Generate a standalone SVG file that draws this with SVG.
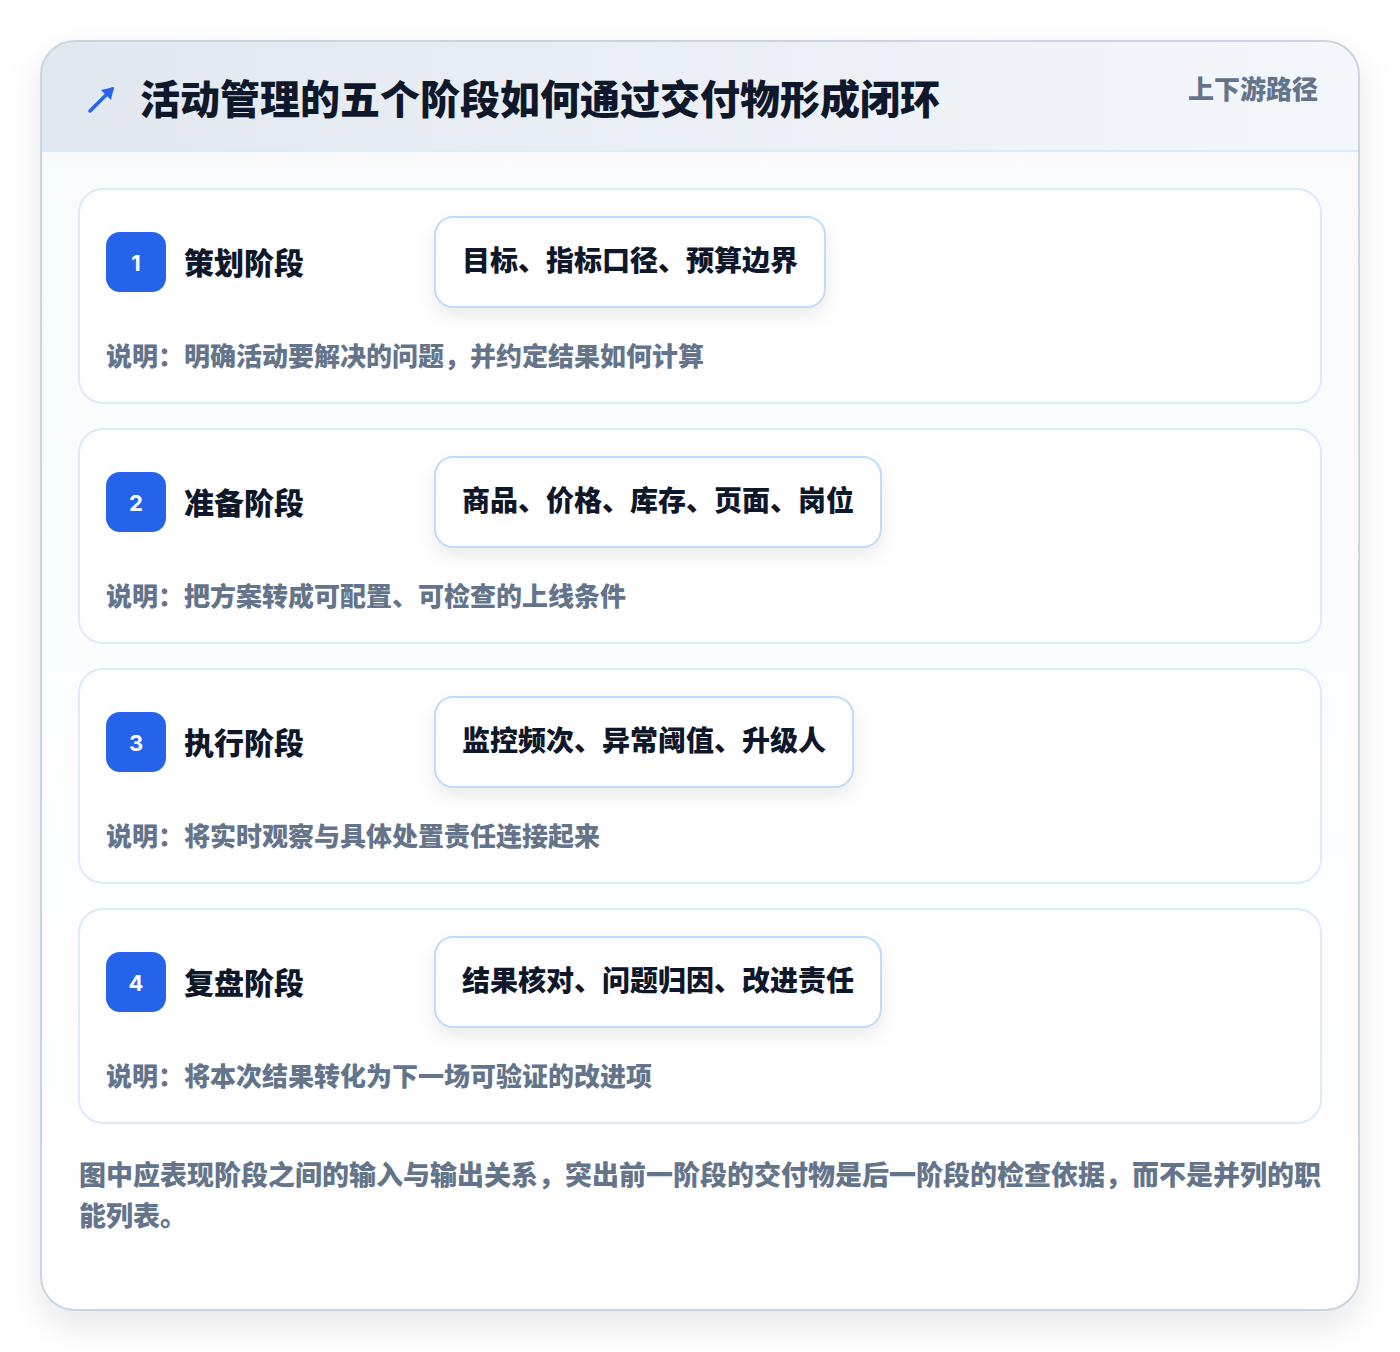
<svg xmlns="http://www.w3.org/2000/svg" width="1400" height="1352" viewBox="0 0 1400 1352">
<defs>
  <linearGradient id="hdr" x1="0" y1="0" x2="1" y2="0">
    <stop offset="0" stop-color="#e2e8f0"/>
    <stop offset="1" stop-color="#f4f7fb"/>
  </linearGradient>
  <linearGradient id="body" x1="0" y1="0" x2="0" y2="1">
    <stop offset="0" stop-color="#f8fafc"/>
    <stop offset="1" stop-color="#ffffff"/>
  </linearGradient>
  <filter id="outerShadow" x="-10%" y="-10%" width="120%" height="125%">
    <feDropShadow dx="0" dy="14" stdDeviation="18" flood-color="#0f172a" flood-opacity="0.10"/>
  </filter>
  <filter id="boxShadow" x="-20%" y="-40%" width="140%" height="200%">
    <feDropShadow dx="0" dy="8" stdDeviation="9" flood-color="#0f172a" flood-opacity="0.08"/>
  </filter>
  <clipPath id="outerClip">
    <rect x="41" y="41" width="1318" height="1269" rx="34"/>
  </clipPath>
  <style>
    text { font-family: "Noto Sans CJK SC", "Noto Sans", sans-serif; font-weight: 900; }
    .title { font-size: 40px; fill: #0f172a; }
    .tag { font-size: 26px; fill: #64748b; }
    .card { fill: #ffffff; stroke: #dbeafe; stroke-width: 2; }
    .badge { fill: #2563eb; }
    .num { font-family: "Inter", "Liberation Sans", sans-serif; font-weight: 700; font-size: 22px; fill: #ffffff; }
    .stage { font-size: 30px; fill: #0f172a; }
    .box { fill: #ffffff; stroke: #bfdbfe; stroke-width: 2; }
    .deliv { font-size: 28px; fill: #0f172a; }
    .desc { font-size: 26px; fill: #64748b; }
    .foot { font-size: 27px; fill: #64748b; }
  </style>
</defs>
<rect width="1400" height="1352" fill="#ffffff"/>
<g id="frame">
  <rect x="41" y="41" width="1318" height="1269" rx="34" fill="url(#body)" filter="url(#outerShadow)"/>
  <g clip-path="url(#outerClip)">
    <rect x="41" y="41" width="1318" height="110" fill="url(#hdr)"/>
    <line x1="41" y1="151" x2="1359" y2="151" stroke="#dbeafe" stroke-width="2"/>
  </g>
  <rect x="41" y="41" width="1318" height="1269" rx="34" fill="none" stroke="#cbd5e1" stroke-width="2"/>
</g>
<g id="header">
  <path d="M90 111 L112 89" stroke="#2563eb" stroke-width="3.5" stroke-linecap="round" fill="none"/>
  <path d="M114 87 L101 90 L111 100 Z" fill="#2563eb"/>
  <text class="title" x="140" y="114">活动管理的五个阶段如何通过交付物形成闭环</text>
  <text class="tag" x="1318" y="99" text-anchor="end">上下游路径</text>
</g>
<g id="stage1">
  <rect class="card" x="79" y="189" width="1242" height="214" rx="24"/>
  <rect class="badge" x="106" y="232" width="60" height="60" rx="14"/>
  <text class="num" x="136" y="271" text-anchor="middle">1</text>
  <text class="stage" x="184" y="274">策划阶段</text>
  <rect class="box" x="435" y="217" width="390" height="90" rx="18" filter="url(#boxShadow)"/>
  <text class="deliv" x="462" y="271">目标、指标口径、预算边界</text>
  <text class="desc" x="106" y="366">说明：明确活动要解决的问题，并约定结果如何计算</text>
</g>
<g id="stage2">
  <rect class="card" x="79" y="429" width="1242" height="214" rx="24"/>
  <rect class="badge" x="106" y="472" width="60" height="60" rx="14"/>
  <text class="num" x="136" y="511" text-anchor="middle">2</text>
  <text class="stage" x="184" y="514">准备阶段</text>
  <rect class="box" x="435" y="457" width="446" height="90" rx="18" filter="url(#boxShadow)"/>
  <text class="deliv" x="462" y="511">商品、价格、库存、页面、岗位</text>
  <text class="desc" x="106" y="606">说明：把方案转成可配置、可检查的上线条件</text>
</g>
<g id="stage3">
  <rect class="card" x="79" y="669" width="1242" height="214" rx="24"/>
  <rect class="badge" x="106" y="712" width="60" height="60" rx="14"/>
  <text class="num" x="136" y="751" text-anchor="middle">3</text>
  <text class="stage" x="184" y="754">执行阶段</text>
  <rect class="box" x="435" y="697" width="418" height="90" rx="18" filter="url(#boxShadow)"/>
  <text class="deliv" x="462" y="751">监控频次、异常阈值、升级人</text>
  <text class="desc" x="106" y="846">说明：将实时观察与具体处置责任连接起来</text>
</g>
<g id="stage4">
  <rect class="card" x="79" y="909" width="1242" height="214" rx="24"/>
  <rect class="badge" x="106" y="952" width="60" height="60" rx="14"/>
  <text class="num" x="136" y="991" text-anchor="middle">4</text>
  <text class="stage" x="184" y="994">复盘阶段</text>
  <rect class="box" x="435" y="937" width="446" height="90" rx="18" filter="url(#boxShadow)"/>
  <text class="deliv" x="462" y="991">结果核对、问题归因、改进责任</text>
  <text class="desc" x="106" y="1086">说明：将本次结果转化为下一场可验证的改进项</text>
</g>
<g id="connectors"></g>
<g id="footer">
  <text class="foot" x="79" y="1185">图中应表现阶段之间的输入与输出关系，突出前一阶段的交付物是后一阶段的检查依据，而不是并列的职</text>
  <text class="foot" x="79" y="1226">能列表。</text>
</g>
</svg>
